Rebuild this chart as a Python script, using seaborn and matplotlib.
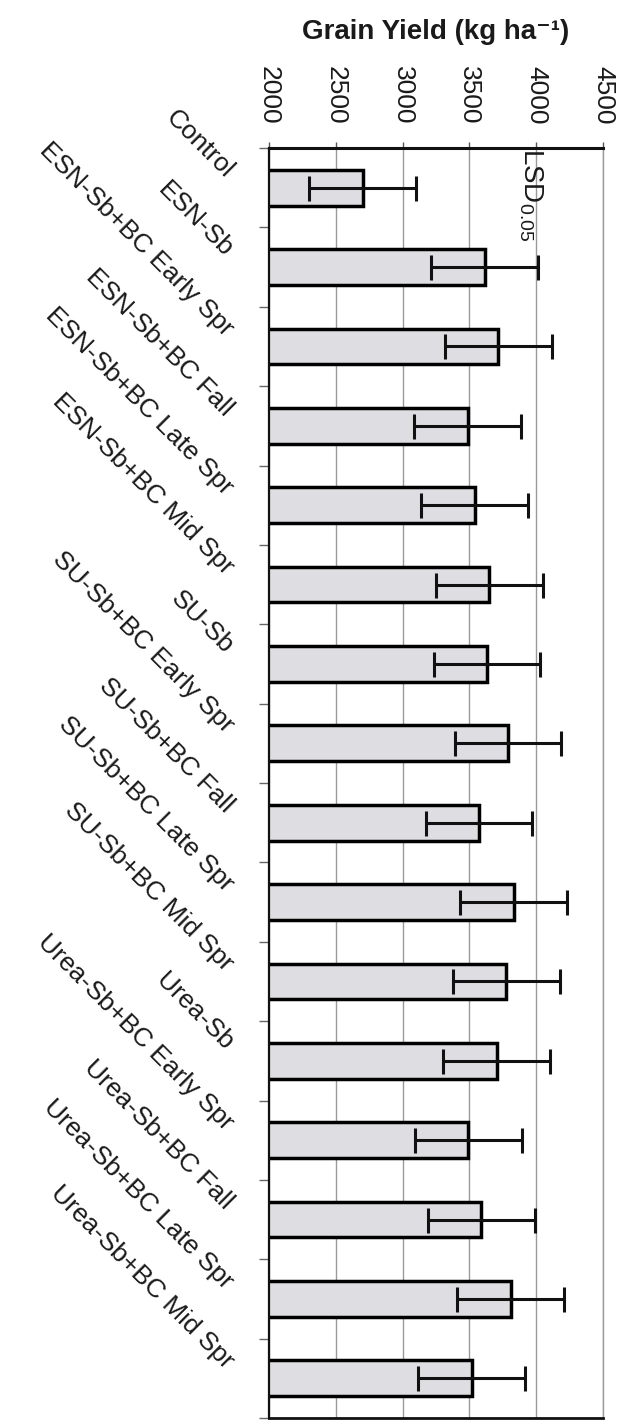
import numpy as np
import pandas as pd
import seaborn as sns
import matplotlib
matplotlib.use("Agg")
import matplotlib.pyplot as plt
from matplotlib.transforms import ScaledTranslation

# treatments, top to bottom
categories = ["Control", "ESN-Sb", "ESN-Sb+BC Early Spr", "ESN-Sb+BC Fall",
              "ESN-Sb+BC Late Spr", "ESN-Sb+BC Mid Spr", "SU-Sb",
              "SU-Sb+BC Early Spr", "SU-Sb+BC Fall", "SU-Sb+BC Late Spr",
              "SU-Sb+BC Mid Spr", "Urea-Sb", "Urea-Sb+BC Early Spr",
              "Urea-Sb+BC Fall", "Urea-Sb+BC Late Spr", "Urea-Sb+BC Mid Spr"]
# grain yield, kg/ha
yields = [2700, 3615, 3715, 3487, 3540, 3650, 3632, 3789,
          3572, 3833, 3776, 3705, 3490, 3588, 3808, 3518]
# half LSD(0.05) error bars
err = [400, 400, 400, 400, 400, 400, 400, 400,
       400, 400, 400, 400, 400, 400, 400, 400]
xticks = [2000, 2500, 3000, 3500, 4000, 4500]

df = pd.DataFrame({"treatment": categories, "yield": yields})

sns.set_style("white")
plt.rcParams["font.family"] = ["Liberation Sans", "DejaVu Sans"]
plt.rcParams["mathtext.fontset"] = "custom"
plt.rcParams["mathtext.rm"] = "Liberation Sans"
plt.rcParams["mathtext.it"] = "Liberation Sans:italic"
plt.rcParams["mathtext.bf"] = "Liberation Sans:bold"

fig = plt.figure(figsize=(6.38, 14.28), dpi=100)
ax = fig.add_axes([269/638, 1 - 1418/1428, (603-269)/638, (1418-148)/1428])

sns.barplot(data=df, x="yield", y="treatment", orient="h", ax=ax,
            color="#dedee2", saturation=1, edgecolor="black", linewidth=2.5,
            width=0.45, errorbar=None, zorder=2)
ax.errorbar(yields, np.arange(len(categories)), xerr=err, fmt="none",
            ecolor="#111111", elinewidth=2.2, capsize=9, capthick=2.2, zorder=3)

ax.set_xlim(2000, 4500)
ax.set_ylim(len(categories) - 0.5, -0.5)
ax.xaxis.tick_top()
ax.set_xticks(xticks)
ax.set_xticklabels([str(t) for t in xticks])
ax.tick_params(axis="x", labelrotation=-90, labelsize=19, length=4, width=1,
               color="#555555", pad=13, top=True, bottom=False,
               labelcolor="#1a1a1a")
ax.grid(axis="x", color="#9a9a9a", linewidth=1, zorder=0)
ax.set_axisbelow(True)

# category labels, angled
ax.set_yticks(np.arange(len(categories)))
ax.set_yticklabels(categories)
ax.set_yticks(np.arange(len(categories) + 1) - 0.5, minor=True)
ax.tick_params(axis="y", which="major", length=0, pad=30, labelsize=19,
               labelcolor="#1a1a1a")
ax.tick_params(axis="y", which="minor", left=True, length=7, width=1, color="#666666")
off = ScaledTranslation(0.02, 0.14, fig.dpi_scale_trans)
for lab in ax.get_yticklabels():
    lab.set_rotation(-45)
    lab.set_ha("right")
    lab.set_va("center")
    lab.set_rotation_mode("anchor")
    lab.set_transform(lab.get_transform() + off)

ax.set_xlabel("")
ax.set_ylabel("")
for side in ["left", "top", "bottom"]:
    ax.spines[side].set_color("#111111")
ax.spines["top"].set_linewidth(2.2)
ax.spines["bottom"].set_linewidth(2.0)
ax.spines["left"].set_linewidth(1.6)
ax.spines["right"].set_color("#9a9a9a")
ax.spines["right"].set_linewidth(1)

ax.text(3962, -0.5, "LSD$_{0.05}$", rotation=-90, ha="center", va="top",
        fontsize=20, color="#1a1a1a", zorder=4)

fig.text(436/638, 1 - 32/1428, "Grain Yield (kg ha\u207b\u00b9)",
         ha="center", va="center", fontsize=20, fontweight="bold",
         color="#1a1a1a")

fig.savefig("out.png", dpi=100)
